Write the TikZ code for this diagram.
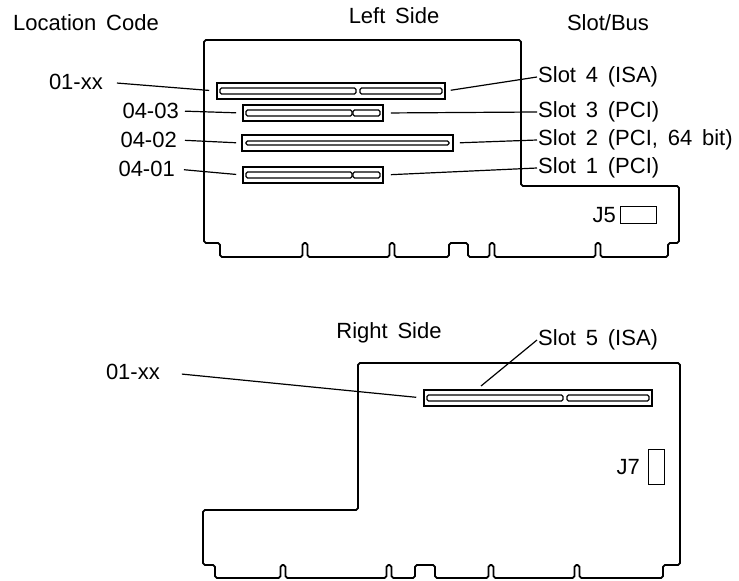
\documentclass[tikz,border=0pt]{standalone}
\usepackage{fontspec}
\setmainfont{Liberation Sans}[WordSpace=1.6]

\begin{document}
\begin{tikzpicture}[x=1pt,y=-1pt,
    board/.style={draw,line width=1.8pt,rounded corners=1.8pt},
    slot/.style={draw,line width=1.6pt,inner sep=0pt,minimum height=16pt},
    pin/.style={draw,line width=1.2pt,rounded corners=1.5pt},
    jack/.style={draw,line width=0.8pt,inner sep=0pt},
    leader/.style={line width=1.2pt},
    tag/.style={inner sep=1pt,font=\fontsize{22}{26}\selectfont}]
        \useasboundingbox (0,0) rectangle (739,581);

        % titles
        \node[tag] at (86, 23) (loccode) {Location Code};
        \node[tag] at (394, 16) (leftside) {Left Side};
        \node[tag] at (608, 23) (slotbus) {Slot/Bus};
        \node[tag] at (389, 333) (rightside) {Right Side};

        % left side board
        \draw[board] (204,40) -- (521,40) -- (521,186) -- (679,186) -- (679,243) -- (668,243) -- (668,257)
            -- (600.5,257) -- (600.5,243) -- (595.5,243) -- (595.5,257)
            -- (494.5,257) -- (494.5,243) -- (489.5,243) -- (489.5,257)
            -- (468,257) -- (468,243) -- (449,243) -- (449,257)
            -- (394.5,257) -- (394.5,243) -- (389.5,243) -- (389.5,257)
            -- (307.5,257) -- (307.5,243) -- (302.5,243) -- (302.5,257)
            -- (220,257) -- (220,243) -- (204,243) -- cycle;

        \node[slot, minimum width=228pt] at (331, 91) (slot4) {};
        \node[slot, minimum width=140pt] at (313, 113) (slot3) {};
        \node[slot, minimum width=211pt] at (347.5, 143) (slot2) {};
        \node[slot, minimum width=140pt] at (313, 175) (slot1) {};
        \draw[pin] (220,88) rectangle (356,94);
        \draw[pin] (360,88) rectangle (442,94);
        \draw[pin] (246,110) rectangle (352,116);
        \draw[pin] (353,110) rectangle (380,116);
        \draw[pin] (246,141) rectangle (449,145);
        \draw[pin] (246,172) rectangle (352,178);
        \draw[pin] (353,172) rectangle (380,178);

        \node[tag, anchor=east] at (104, 82) (loc1) {01-xx};
        \node[tag, anchor=east] at (180, 111) (loc43) {04-03};
        \node[tag, anchor=east] at (178, 140) (loc42) {04-02};
        \node[tag, anchor=east] at (176, 169) (loc41) {04-01};

        \node[tag, anchor=west] at (537, 77) (sl4) {Slot 4 (ISA)};
        \node[tag, anchor=west] at (537, 112) (sl3) {Slot 3 (PCI)};
        \node[tag, anchor=west] at (537, 140) (sl2) {Slot 2 (PCI, 64 bit)};
        \node[tag, anchor=west] at (537, 168) (sl1) {Slot 1 (PCI)};

        \node[jack, minimum width=36pt, minimum height=17pt] at (638, 214.5) (j5) {};
        \node[tag, anchor=east] at (617, 215) (j5lbl) {J5};

        \path[leader]
            (loc1.east) edge[shorten <=13pt, shorten >=7pt] (slot4.west)
            (loc43.east) edge[shorten <=5pt, shorten >=6pt] (slot3.west)
            (loc42.east) edge[shorten <=7pt, shorten >=5pt] (slot2.west)
            (loc41.east) edge[shorten <=8pt, shorten >=6pt] (slot1.west)
            (slot4.east) edge[shorten <=5pt] (sl4.west)
            (slot3.east) edge[shorten <=7pt] (sl3.west)
            (slot2.east) edge[shorten <=6pt] (sl2.west)
            (slot1.east) edge[shorten <=7pt] (sl1.west)
            ;

        % right side board
        \draw[board] (358,363) -- (680,363) -- (680,565) -- (663,565) -- (663,578)
            -- (579.5,578) -- (579.5,565) -- (574.5,565) -- (574.5,578)
            -- (493.5,578) -- (493.5,565) -- (488.5,565) -- (488.5,578)
            -- (435,578) -- (435,565) -- (415,565) -- (415,578)
            -- (391.5,578) -- (391.5,565) -- (386.5,565) -- (386.5,578)
            -- (285.5,578) -- (285.5,565) -- (280.5,565) -- (280.5,578)
            -- (215,578) -- (215,565) -- (203,565) -- (203,510) -- (358,510) -- cycle;

        \node[slot, minimum width=228pt] at (538, 398) (slot5) {};
        \draw[pin] (427,395) rectangle (563,401);
        \draw[pin] (567,395) rectangle (649,401);
        \coordinate (s5tap) at (481, 386);

        \node[tag, anchor=east] at (161, 372) (rloc) {01-xx};
        \node[tag, anchor=west] at (537, 340) (sl5) {Slot 5 (ISA)};

        \node[jack, minimum width=16pt, minimum height=35pt] at (656, 466.5) (j7) {};
        \node[tag, anchor=east] at (641, 467) (j7lbl) {J7};

        \path[leader]
            (rloc.east) edge[shorten <=21pt, shorten >=7pt] (slot5.west)
            (s5tap) edge (sl5.west)
            ;
        \end{tikzpicture}
\end{document}
